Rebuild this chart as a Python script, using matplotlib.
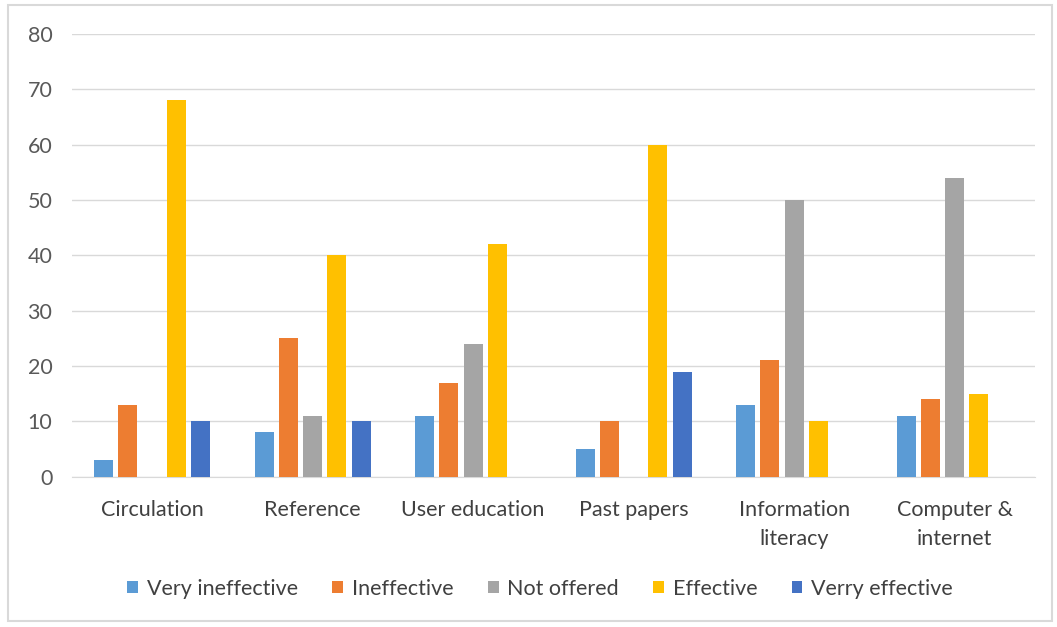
import numpy as np
import matplotlib.pyplot as plt
from matplotlib.patches import Rectangle

categories = ["Circulation", "Reference", "User education", "Past papers",
              "Information\nliteracy", "Computer &\ninternet"]
series_names = ["Very ineffective", "Ineffective", "Not offered", "Effective", "Verry effective"]
very_ineffective = [3, 8, 11, 5, 13, 11]
ineffective = [13, 25, 17, 10, 21, 14]
not_offered = [0, 11, 24, 0, 50, 54]
effective = [68, 40, 42, 60, 10, 15]
very_effective = [10, 10, 0, 19, 0, 0]
colors = ["#5B9BD5", "#ED7D31", "#A5A5A5", "#FFC000", "#4472C4"]

plt.rcParams['font.family'] = ['Lato', 'DejaVu Sans']

fig = plt.figure(figsize=(10.57, 6.27), dpi=100)
ax = fig.add_axes([0.068, 0.2397, 0.911, 0.7061])

x = np.arange(len(categories))
step = 0.151
width = 0.118
all_series = [very_ineffective, ineffective, not_offered, effective, very_effective]
for i, (vals, name, c) in enumerate(zip(all_series, series_names, colors)):
    ax.bar(x + (i - 2) * step, vals, width, color=c, label=name, zorder=3)

ax.set_xlim(-0.5, len(categories) - 0.5)
ax.set_ylim(0, 80)
ax.set_yticks(range(0, 81, 10))
ax.yaxis.grid(True, color="#D9D9D9", linewidth=1, zorder=0)
ax.set_xticks(x)
ax.set_xticklabels(categories, fontsize=15.5, color="#404040", linespacing=1.55)
ax.tick_params(axis="y", labelsize=15.5, labelcolor="#595959", length=0, pad=14)
ax.tick_params(axis="x", length=0, pad=17)
for s in ["top", "right", "left"]:
    ax.spines[s].set_visible(False)
ax.spines["bottom"].set_color("#D9D9D9")

leg = fig.legend(loc="center", bbox_to_anchor=(0.511, 0.061), ncol=5, frameon=False,
                 fontsize=15.5, handlelength=0.5, handleheight=0.5, handletextpad=0.4,
                 columnspacing=1.6)
for t in leg.get_texts():
    t.set_color("#404040")

# outer chart border
fig.patches.append(Rectangle((0.008, 0.01), 0.987, 0.982, transform=fig.transFigure,
                             fill=False, edgecolor="#D9D9D9", linewidth=1.5))

fig.savefig("out.png", dpi=100)
